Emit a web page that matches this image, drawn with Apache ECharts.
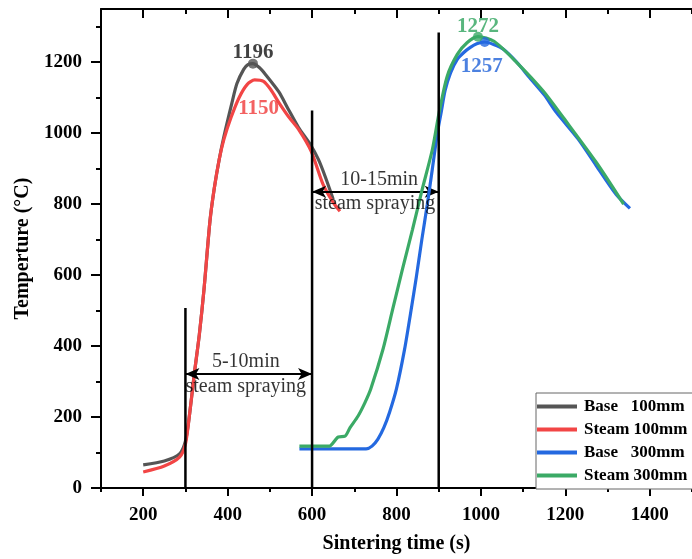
<!DOCTYPE html>
<html><head><meta charset="utf-8">
<script src="https://cdn.jsdelivr.net/npm/echarts@6/dist/echarts.min.js"></script>
<style>html,body{margin:0;padding:0;background:#fff}#c{width:692px;height:559px}</style>
</head><body><div id="c"></div>
<script>
// ---- data ----
const seriesNames = ['Base   100mm', 'Steam 100mm', 'Base   300mm', 'Steam 300mm'];
const seriesColors = ['#555555', '#F24545', '#2469E0', '#3BAA66'];

const base100Time  = [200, 250, 286, 300, 309, 321, 333, 344, 358, 368, 380, 391, 410, 422, 438, 448, 460, 475, 490, 521, 544, 568, 596, 615, 631, 650];
const base100Temp  = [65, 76, 96, 132, 200, 321, 433, 560, 751, 842, 926, 990, 1085, 1140, 1180, 1193, 1196, 1185, 1165, 1117, 1067, 1016, 968, 926, 878, 814];

const steam100Time = [200, 250, 286, 300, 309, 321, 333, 344, 358, 368, 380, 391, 408, 427, 446, 464, 485, 502, 521, 544, 568, 598, 626, 650, 666];
const steam100Temp = [45, 62, 87, 124, 200, 321, 433, 560, 751, 842, 926, 982, 1044, 1100, 1137, 1150, 1146, 1123, 1087, 1047, 1011, 949, 856, 805, 780];

const base300Time  = [570, 650, 728, 742, 756, 770, 784, 800, 819, 833, 847, 860, 873, 885, 897, 906, 915, 928, 944, 960, 974, 990, 1009, 1030, 1054, 1085, 1115, 1150, 1179, 1230, 1273, 1320, 1353];
const base300Temp  = [110, 110, 110, 118, 138, 170, 215, 280, 390, 490, 595, 700, 800, 900, 1002, 1060, 1120, 1170, 1208, 1228, 1241, 1252, 1257, 1250, 1236, 1200, 1157, 1108, 1058, 984, 909, 828, 788];

const steam300Time = [570, 641, 655, 662, 678, 690, 709, 725, 739, 768, 791, 814, 838, 861, 885, 901, 920, 944, 967, 993, 1031, 1085, 1148, 1195, 1273, 1338];
const steam300Temp = [118, 118, 135, 144, 146, 170, 203, 240, 279, 391, 504, 616, 729, 842, 954, 1058, 1160, 1222, 1255, 1272, 1259, 1199, 1118, 1044, 918, 800];

// peak annotations
const peakTime   = [460, 464, 1009, 993];
const peakTemp   = [1196, 1150, 1257, 1272];
const peakMarked = [true, false, true, true];

// steam spraying windows
const sprayLineTime = [300, 600, 900];
const sprayLineTop  = [507, 1064, 1284];
const sprayArrowFrom = [300, 600];
const sprayArrowTo   = [600, 900];
const sprayArrowTemp = [321, 835];
const sprayTitle  = ['5-10min', '10-15min'];
const sprayNote   = ['steam spraying', 'steam spraying'];
const sprayTitleAt = [[443, 357], [759, 870]];
const sprayNoteAt  = [[443, 284], [749, 800]];

// ticks
const xMajor = [200, 400, 600, 800, 1000, 1200, 1400];
const xMinor = [100, 300, 500, 700, 900, 1100, 1300, 1500];
const yMajor = [0, 200, 400, 600, 800, 1000, 1200];
const yMinor = [100, 300, 500, 700, 900, 1100, 1300];

// ---- chart ----
const FONT = '"Liberation Serif", "Times New Roman", serif';
const zip = (a, b) => a.map((v, i) => [v, b[i]]);
const chart = echarts.init(document.getElementById('c'), null, {renderer: 'canvas'});

function xAx(pos, values, len, inside, showLine, showLabel, extra) {
  return Object.assign({
    type: 'value', min: 100, max: 1500, position: pos, gridIndex: 0,
    axisLine: {show: showLine, onZero: false, lineStyle: {color: '#000', width: 2}},
    axisTick: {show: true, customValues: values, length: len, inside: inside, lineStyle: {color: '#000', width: 2}},
    axisLabel: {show: showLabel, customValues: values, margin: 18, formatter: v => String(v), color: '#000', fontFamily: FONT, fontWeight: 'bold', fontSize: 19},
    splitLine: {show: false}
  }, extra || {});
}
function yAx(values, len, showLine, showLabel, extra) {
  return Object.assign({
    type: 'value', min: 0, max: 1350, position: 'left', gridIndex: 0,
    axisLine: {show: showLine, onZero: false, lineStyle: {color: '#000', width: 2}},
    axisTick: {show: true, customValues: values, length: len, lineStyle: {color: '#000', width: 2}},
    axisLabel: {show: showLabel, customValues: values, margin: 19, formatter: v => String(v), color: '#000', fontFamily: FONT, fontWeight: 'bold', fontSize: 19},
    splitLine: {show: false}
  }, extra || {});
}

const series = [];
[[base100Time, base100Temp], [steam100Time, steam100Temp], [base300Time, base300Temp], [steam300Time, steam300Temp]].forEach((d, i) => {
  series.push({
    name: seriesNames[i], type: 'line', data: zip(d[0], d[1]), smooth: 0.25,
    showSymbol: false, symbol: 'none', lineStyle: {color: seriesColors[i], width: 3.2}, itemStyle: {color: seriesColors[i]}, z: 3 + i
  });
});

// vertical lines
sprayLineTime.forEach((t, i) => {
  series.push({
    type: 'line', data: [[t, 0], [t, sprayLineTop[i]]], showSymbol: false, symbol: 'none',
    lineStyle: {color: '#000', width: 2.5}, z: 10, silent: true
  });
});

// arrows
series.push({
  type: 'line', data: [], z: 11, silent: true,
  markLine: {
    silent: true, symbol: ['arrow', 'arrow'], symbolSize: [9, 14],
    lineStyle: {color: '#000', width: 2, type: 'solid'}, label: {show: false},
    data: sprayArrowFrom.map((f, i) => [{coord: [f, sprayArrowTemp[i]]}, {coord: [sprayArrowTo[i], sprayArrowTemp[i]]}])
  }
});

// spray texts
const sprayTexts = [];
sprayTitle.forEach((s, i) => { sprayTexts.push({value: sprayTitleAt[i], name: s}); sprayTexts.push({value: sprayNoteAt[i], name: sprayNote[i]}); });
series.push({
  type: 'scatter', data: sprayTexts, symbolSize: 0, z: 12, silent: true,
  label: {show: true, position: 'inside', formatter: p => p.name, color: '#000', fontFamily: FONT, fontSize: 20}
});

// peaks
const labelPos = [
  {position: 'top', distance: -4},
  {position: 'bottom', distance: 18, offset: [4, 0]},
  {position: 'bottom', distance: 9, offset: [-3, 0]},
  {position: 'top', distance: -5}
];
const labelColors = ['#111', '#F03A3A', '#1F62D8', '#2FA45E'];
peakTime.forEach((t, i) => {
  series.push({
    type: 'scatter', data: [[t, peakTemp[i]]], symbol: 'circle', symbolSize: peakMarked[i] ? 10 : 0, z: 13, silent: true,
    itemStyle: {color: seriesColors[i]},
    label: Object.assign({show: true, formatter: String(peakTemp[i]), color: labelColors[i], fontFamily: FONT, fontWeight: 'bold', fontSize: 21}, labelPos[i])
  });
});

chart.setOption({
  backgroundColor: '#fff',
  animation: false,
  grid: {left: 101, top: 9, width: 595, height: 480, containLabel: false},
  xAxis: [
    xAx('bottom', xMajor, 8, false, true, true, {name: 'Sintering time (s)', nameLocation: 'middle', nameGap: 46,
      nameTextStyle: {color: '#000', fontFamily: FONT, fontWeight: 'bold', fontSize: 20}}),
    xAx('bottom', xMinor, 4, false, false, false),
    xAx('top', xMajor, 9, true, true, false),
    xAx('top', xMinor, 5, true, false, false)
  ],
  yAxis: [
    yAx(yMajor, 10, true, true, {name: 'Temperture (\u00B0C)', nameLocation: 'middle', nameGap: 64, nameRotate: 90,
      nameTextStyle: {color: '#000', fontFamily: FONT, fontWeight: 'bold', fontSize: 20}}),
    yAx(yMinor, 5, false, false)
  ],
  legend: {
    data: seriesNames, orient: 'vertical', left: 536, top: 393, icon: 'rect', itemWidth: 40, itemHeight: 4,
    itemGap: 6, padding: [5, 60, 5, 1], borderColor: '#666', borderWidth: 1, backgroundColor: '#fff',
    textStyle: {color: '#000', fontFamily: FONT, fontWeight: 'bold', fontSize: 17, padding: [0, 0, 0, 2]}
  },
  series: series
});
</script>
</body></html>
